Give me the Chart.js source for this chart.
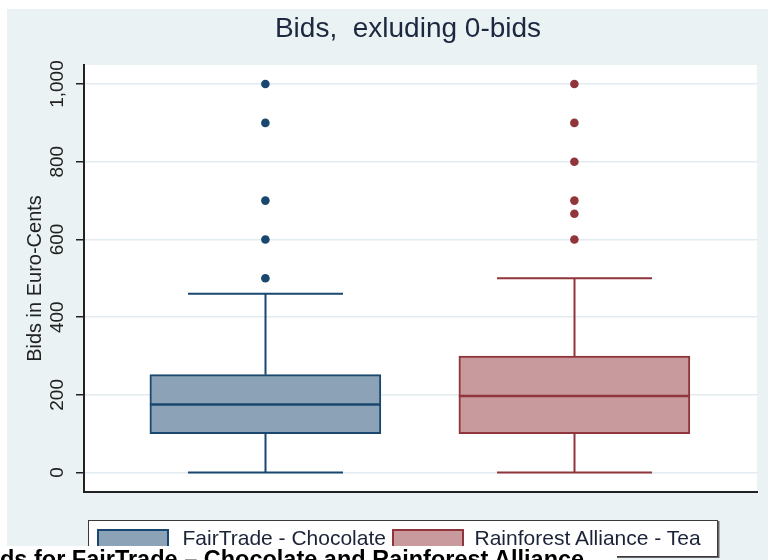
<!DOCTYPE html>
<html>
<head>
<meta charset="utf-8">
<script src="https://cdn.jsdelivr.net/npm/chart.js@4.4.0/dist/chart.umd.min.js"></script>
<style>
html,body{margin:0;padding:0;width:768px;height:560px;overflow:hidden;background:#fff;}
#wrap{position:relative;width:768px;height:560px;overflow:hidden;}
#chart{position:absolute;left:0;top:0;}
#legend{position:absolute;left:88px;top:520px;width:628px;height:35px;background:#fff;border:1.5px solid #3a3a3a;box-shadow:1.5px 1px 0 #666;font-family:'Liberation Sans',Arial,sans-serif;font-size:21px;color:#1a2338;}
.sw{position:absolute;top:8px;height:21px;border:2px solid;box-sizing:border-box;}
.lt{position:absolute;top:4px;white-space:nowrap;line-height:25px;}
#caption{position:absolute;left:0;top:546px;width:617px;height:20px;background:#fff;overflow:hidden;}
#caption span{position:absolute;left:-23.5px;top:2px;font-family:'Liberation Sans',Arial,sans-serif;font-weight:bold;font-size:23.5px;line-height:23px;white-space:nowrap;color:#000;}
</style>
</head>
<body>
<div id="wrap">
  <canvas id="chart" width="768" height="560"></canvas>
  <div id="legend"></div>
  <div id="caption"><span id="captionText"></span></div>
</div>
<script>
// ---- data ----
const categories = ['FairTrade - Chocolate', 'Rainforest Alliance - Tea'];
const q1 = [100, 100];
const medians = [175, 197];
const q3 = [252, 300];
const whiskerLow = [0, 0];
const whiskerHigh = [460, 500];
const outliersFairTrade = [500, 600, 700, 900, 1000];
const outliersRainforest = [600, 666, 700, 800, 900, 1000];
const yTicks = [0, 200, 400, 600, 800, 1000];
const yTickLabels = ['0', '200', '400', '600', '800', '1,000'];
const chartTitle = 'Bids,  exluding 0-bids';
const yAxisTitle = 'Bids in Euro-Cents';
const captionText = 'Bids for FairTrade \u2013 Chocolate and Rainforest Alliance';

// ---- styles ----
const lineColors = ['#1A476F', '#90353B'];
const fillColors = ['#8CA3B7', '#C89A9D'];
const bgColor = '#EAF2F3';
const capWidth = 155;
const boxWidth = 231;
const titleShift = 26;

const boxPlugin = {
  id: 'boxParts',
  afterLayout(chart) {
    if (chart.titleBlock) {
      chart.titleBlock.left += titleShift;
      chart.titleBlock.right += titleShift;
    }
  },
  beforeDraw(chart) {
    const {ctx, chartArea: a} = chart;
    ctx.save();
    ctx.fillStyle = '#ffffff';
    ctx.fillRect(0, 0, chart.width, chart.height);
    ctx.fillStyle = bgColor;
    ctx.fillRect(7, 9, chart.width - 7, chart.height - 9);
    ctx.fillStyle = '#ffffff';
    ctx.fillRect(a.left, a.top, a.right - a.left, a.bottom - a.top);
    ctx.restore();
  },
  afterDatasetsDraw(chart) {
    const {ctx, scales: {x, y}} = chart;
    const bars = chart.getDatasetMeta(0).data;
    ctx.save();
    categories.forEach((c, i) => {
      const cx = Math.round(x.getPixelForValue(i)) + 0.5;
      ctx.strokeStyle = lineColors[i];
      ctx.lineWidth = 2;
      const yq1 = y.getPixelForValue(q1[i]);
      const yq3 = y.getPixelForValue(q3[i]);
      const ylo = y.getPixelForValue(whiskerLow[i]);
      const yhi = y.getPixelForValue(whiskerHigh[i]);
      ctx.beginPath();
      ctx.moveTo(cx, yq3); ctx.lineTo(cx, yhi);
      ctx.moveTo(cx - capWidth / 2, yhi); ctx.lineTo(cx + capWidth / 2, yhi);
      ctx.moveTo(cx, yq1); ctx.lineTo(cx, ylo);
      ctx.moveTo(cx - capWidth / 2, ylo); ctx.lineTo(cx + capWidth / 2, ylo);
      ctx.stroke();
      const b = bars[i];
      const ym = y.getPixelForValue(medians[i]);
      ctx.lineWidth = 2.5;
      ctx.beginPath();
      ctx.moveTo(b.x - b.width / 2, ym); ctx.lineTo(b.x + b.width / 2, ym);
      ctx.stroke();
    });
    ctx.restore();
  }
};

const font = 'Liberation Sans, Arial, sans-serif';

new Chart(document.getElementById('chart'), {
  type: 'bar',
  data: {
    datasets: [
      {
        type: 'bar',
        label: 'boxes',
        data: categories.map((c, i) => ({x: i, y: [q1[i], q3[i]]})),
        backgroundColor: fillColors,
        borderColor: lineColors,
        borderWidth: 2,
        borderSkipped: false,
        barThickness: boxWidth
      },
      {
        type: 'scatter',
        label: categories[0],
        data: outliersFairTrade.map(v => ({x: 0, y: v})),
        pointRadius: 4.3,
        pointBackgroundColor: lineColors[0],
        pointBorderWidth: 0
      },
      {
        type: 'scatter',
        label: categories[1],
        data: outliersRainforest.map(v => ({x: 1, y: v})),
        pointRadius: 4.3,
        pointBackgroundColor: lineColors[1],
        pointBorderWidth: 0
      }
    ]
  },
  options: {
    responsive: false,
    animation: false,
    layout: {padding: {left: 7, right: 11, top: 0, bottom: 68}},
    plugins: {
      legend: {display: false},
      tooltip: {enabled: false},
      title: {
        display: true,
        text: chartTitle,
        color: '#1C2840',
        font: {family: font, size: 28, weight: 'normal', lineHeight: 1.2},
        padding: {top: 12.5, bottom: 18.9}
      }
    },
    scales: {
      x: {
        type: 'linear',
        offset: false,
        min: -0.587,
        max: 1.591,
        ticks: {display: false},
        grid: {display: false, offset: false},
        border: {display: true, color: '#222', width: 2},
        afterFit: s => { s.height = 0; }
      },
      y: {
        type: 'linear',
        min: -50,
        max: 1049,
        afterBuildTicks: s => { s.ticks = yTicks.map(v => ({value: v})); },
        ticks: {
          minRotation: 90,
          maxRotation: 90,
          crossAlign: 'center',
          padding: -5.5,
          color: '#222',
          font: {family: font, size: 19},
          callback: (v, i) => yTickLabels[i]
        },
        grid: {color: '#E2ECF0', lineWidth: 1.5, tickColor: '#222', tickLength: 8, tickWidth: 1.5},
        border: {display: true, color: '#222', width: 2},
        title: {
          display: true,
          text: yAxisTitle,
          color: '#222',
          font: {family: font, size: 20},
          padding: {top: 16, bottom: 0}
        },
        afterFit: s => { s.width = 77; }
      }
    }
  },
  plugins: [boxPlugin]
});

// HTML legend and caption
const legend = document.getElementById('legend');
const swLeft = [7.5, 302.5];
const txtLeft = [93.5, 385.5];
categories.forEach((c, i) => {
  const sw = document.createElement('div');
  sw.className = 'sw';
  sw.style.left = swLeft[i] + 'px';
  sw.style.width = '72px';
  sw.style.background = fillColors[i];
  sw.style.borderColor = lineColors[i];
  legend.appendChild(sw);
  const t = document.createElement('span');
  t.className = 'lt';
  t.style.left = txtLeft[i] + 'px';
  t.textContent = c;
  legend.appendChild(t);
});
document.getElementById('captionText').textContent = captionText;
</script>
</body>
</html>
